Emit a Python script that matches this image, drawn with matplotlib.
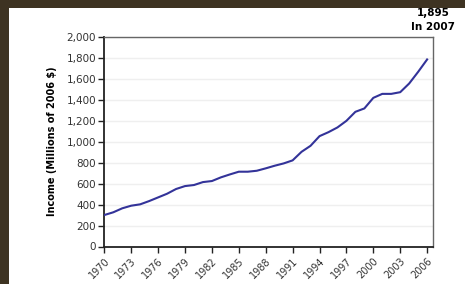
import numpy as np
import matplotlib
matplotlib.use('Agg')
from matplotlib import pyplot as plt
from matplotlib.patches import Rectangle
import matplotlib.transforms as mtransforms

years = list(range(1970, 2007))
income = [300, 326, 364, 389, 402, 433, 468, 503, 548, 576,
          586, 614, 624, 659, 687, 713, 713, 722, 745, 770,
          792, 821, 903, 960, 1052, 1090, 1135, 1198, 1284, 1316,
          1417, 1455, 1455, 1471, 1554, 1665, 1783]
tick_years = list(range(1970, 2007, 3))
y_ticks = list(range(0, 2001, 200))
note = "1,895\nIn 2007"

fig = plt.figure(figsize=(4.65, 2.84), dpi=100)
fig.patch.set_facecolor('#3e3322')
# white slide panel behind the chart
fig.patches.append(Rectangle((9 / 465, 0), 1, 1 - 8 / 284, transform=fig.transFigure,
                             facecolor='white', edgecolor='none', zorder=-10))

ax = fig.add_axes([104.3 / 465, 1 - 246.5 / 284, (432.5 - 104.3) / 465, (246.5 - 36.7) / 284])
ax.set_facecolor('white')
ax.plot(years, income, color='#333399', linewidth=1.5, zorder=3)

ax.set_ylim(0, 2000)
ax.set_xlim(1970, 2006.6)
ax.set_yticks(y_ticks)
ax.set_yticklabels(['{:,}'.format(v) for v in y_ticks], fontsize=7.5, color='#333333')
ax.set_xticks(tick_years)
ax.set_xticklabels([str(y) for y in tick_years], fontsize=7, color='#333333',
                   rotation=45, ha='right', rotation_mode='anchor')
# nudge the slanted year labels down-left like the original
offset = mtransforms.ScaledTranslation(-0.06, -0.04, fig.dpi_scale_trans)
for lab in ax.get_xticklabels():
    lab.set_transform(lab.get_transform() + offset)
ax.tick_params(axis='both', direction='out', length=4, width=1, color='#222222', pad=2)
ax.tick_params(axis='x', pad=3)
ax.grid(axis='y', color='#efefef', linewidth=1)
ax.set_axisbelow(True)

for s in ['left', 'bottom']:
    ax.spines[s].set_color('#222222')
    ax.spines[s].set_linewidth(1.3)
for s in ['top', 'right']:
    ax.spines[s].set_color('#666666')
    ax.spines[s].set_linewidth(1)

ax.set_ylabel("Income (Millions of 2006 $)", fontsize=7, fontweight='bold', color='black', labelpad=7)

fig.text(433 / 465, 1 - 20 / 284, note, fontsize=7.5, fontweight='bold', color='black',
         ha='center', va='center', multialignment='center', linespacing=1.5)

fig.savefig('out.png', dpi=100, facecolor=fig.get_facecolor())
